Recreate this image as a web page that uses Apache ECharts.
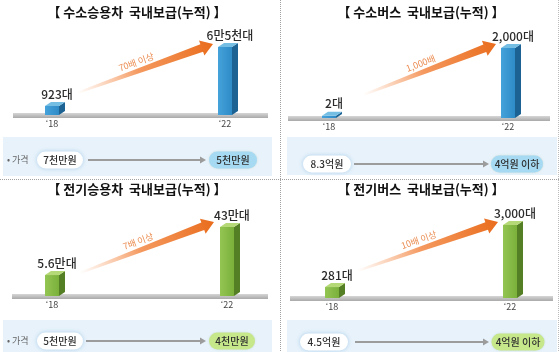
<!DOCTYPE html>
<html>
<head>
<meta charset="utf-8">
<script src="https://cdn.jsdelivr.net/npm/echarts@6/dist/echarts.min.js"></script>
<style>
  html, body { margin: 0; padding: 0; background: #fff; }
  #chart { width: 560px; height: 352px; }
</style>
</head>
<body>
<div id="chart"></div>
<script>
// values
var years = ['\u201818', '\u201822'];
var titles = ['【 수소승용차  국내보급(누적) 】', '【 수소버스  국내보급(누적) 】', '【 전기승용차  국내보급(누적) 】', '【 전기버스  국내보급(누적) 】'];
var h2CarUnits = [923, 65000];
var h2BusUnits = [2, 2000];
var evCarUnits = [56000, 430000];
var evBusUnits = [281, 3000];
var h2CarLabels = ['923대', '6만5천대'];
var h2BusLabels = ['2대', '2,000대'];
var evCarLabels = ['5.6만대', '43만대'];
var evBusLabels = ['281대', '3,000대'];
var growthLabels = ['70배 이상', '1,000배', '7배 이상', '10배 이상'];
var priceFrom = ['7천만원', '8.3억원', '5천만원', '4.5억원'];
var priceTo = ['5천만원', '4억원 이하', '4천만원', '4억원 이하'];

var FONT = "'Noto Sans CJK KR', 'Noto Sans', sans-serif";
var blue = { front: '#2f8bc6', light: '#45a2da', side: '#1c6393', top: '#74bde3' };
var green = { front: '#7bb03b', light: '#93c552', side: '#557f24', top: '#b6d977' };

// layout of the four panels (bars are not to scale in the picture, so each uses its own log axis)
var panels = [
  { units: h2CarUnits, labels: h2CarLabels, col: blue, min: 480, grid: { left: 52, top: 47, width: 173, height: 68 },
    title: [137, 12], band: [13, 268], arrow: [77, 93, 213, 44], box: [3, 137, 269, 39], pillY: 160,
    pills: [60, 233], pillW: [46, 48], line: [88, 205], toFill: '#a6daf3', price: true },
  { units: h2BusUnits, labels: h2BusLabels, col: blue, min: 1.6, grid: { left: 329, top: 48, width: 179, height: 70 },
    title: [421, 12], band: [288, 550], arrow: [363, 95, 496, 44], box: [287, 137, 270, 38], pillY: 164,
    pills: [327, 517], pillW: [48, 52], line: [354, 488], toFill: '#a6daf3', price: false },
  { units: evCarUnits, labels: evCarLabels, col: green, min: 23000, grid: { left: 52, top: 227, width: 175, height: 69 },
    title: [137, 189], band: [12, 268], arrow: [80, 273, 214, 222], box: [3, 320, 269, 32], pillY: 341,
    pills: [60, 232], pillW: [46, 46], line: [86, 205], toFill: '#c6e88b', price: true },
  { units: evBusUnits, labels: evBusLabels, col: green, min: 185, grid: { left: 332, top: 225, width: 178, height: 73 },
    title: [421, 189], band: [290, 553], arrow: [357, 271, 498, 222], box: [287, 320, 270, 32], pillY: 342,
    pills: [324, 518], pillW: [48, 53], line: [355, 488], toFill: '#c6e88b', price: false }
];

function boxItem(p) {
  return function (params, api) {
    var cs = params.coordSys;
    var pt = api.coord([api.value(0), api.value(1)]);
    var base = cs.y + cs.height;
    var cx = pt[0], top = pt[1];
    var w = 7, dx = 6, dy = 4;
    return {
      type: 'group',
      children: [
        { type: 'polygon', shape: { points: [[cx + w, top], [cx + w + dx, top - dy], [cx + w + dx, base - dy], [cx + w, base]] },
          style: { fill: p.col.side } },
        { type: 'rect', shape: { x: cx - w, y: top, width: 2 * w, height: base - top },
          style: { fill: new echarts.graphic.LinearGradient(0, 0, 1, 0, [{ offset: 0, color: p.col.light }, { offset: 1, color: p.col.front }]) } },
        { type: 'polygon', shape: { points: [[cx - w, top], [cx - w + dx, top - dy], [cx + w + dx, top - dy], [cx + w, top]] },
          style: { fill: p.col.top } },
        { type: 'text', x: cx + 5, y: top - dy - 2,
          style: { text: p.labels[params.dataIndex], fill: '#2b2b2b', font: '500 12px ' + FONT,
            align: 'center', verticalAlign: 'bottom', textAlign: 'center', textVerticalAlign: 'bottom' } }
      ]
    };
  };
}

function growthArrow(a, txt) {
  var x1 = a[0], y1 = a[1], x2 = a[2], y2 = a[3];
  var len = Math.sqrt((x2 - x1) * (x2 - x1) + (y2 - y1) * (y2 - y1));
  var ang = Math.atan2(y1 - y2, x2 - x1);
  var ux = (x2 - x1) / len, uy = (y2 - y1) / len;
  var mx = (x1 + x2) / 2 - ux * 6 + uy * 9, my = (y1 + y2) / 2 - uy * 6 - ux * 9;
  return [
    { type: 'group', x: x1, y: y1, rotation: ang, children: [
      { type: 'polygon',
        shape: { points: [[0, -1], [len - 12, -4], [len - 12, -8], [len, 0], [len - 12, 8], [len - 12, 4], [0, 1]] },
        style: { fill: new echarts.graphic.LinearGradient(0, 0, 1, 0, [
          { offset: 0, color: 'rgba(246,150,90,0)' }, { offset: 0.45, color: 'rgba(242,128,56,0.8)' }, { offset: 1, color: '#e96c1c' }]) } }
    ] },
    { type: 'text', x: mx, y: my, rotation: ang,
      style: { text: txt, fill: '#eb8c50', font: '9px ' + FONT,
        align: 'center', verticalAlign: 'middle', textAlign: 'center', textVerticalAlign: 'middle' } }
  ];
}

function pill(cx, cy, w, fill, txt, glow) {
  return { type: 'group', children: [
    { type: 'rect', shape: { x: cx - w / 2, y: cy - 8.5, width: w, height: 17, r: 8.5 },
      style: { fill: fill, shadowBlur: glow ? 4 : 2, shadowColor: glow ? 'rgba(130,180,220,0.6)' : 'rgba(120,160,120,0.3)' } },
    { type: 'text', x: cx, y: cy + 0.5,
      style: { text: txt, fill: '#2f2f2f', font: '500 10px ' + FONT,
        align: 'center', verticalAlign: 'middle', textAlign: 'center', textVerticalAlign: 'middle' } }
  ] };
}

var grids = [], xAxes = [], yAxes = [], series = [], graphics = [];

panels.forEach(function (p, i) {
  grids.push(p.grid);
  xAxes.push({ type: 'category', gridIndex: i, data: years, boundaryGap: false,
    axisLine: { show: false }, axisTick: { show: false },
    axisLabel: { fontSize: 9, color: '#444', fontFamily: FONT, margin: 4 } });
  yAxes.push({ type: 'log', gridIndex: i, min: p.min, max: p.units[1], show: false, splitLine: { show: false } });
  series.push({ type: 'custom', xAxisIndex: i, yAxisIndex: i, renderItem: boxItem(p),
    data: p.units.map(function (v, k) { return [k, v]; }), z: 5 });

  var base = p.grid.top + p.grid.height;
  graphics.push({ type: 'text', x: p.title[0], y: p.title[1],
    style: { text: titles[i], fill: '#111', font: 'bold 13px ' + FONT,
      align: 'center', verticalAlign: 'middle', textAlign: 'center', textVerticalAlign: 'middle' } });
  // grey floor
  graphics.push({ type: 'rect', z: -1, shape: { x: p.band[0], y: base - 2, width: p.band[1] - p.band[0], height: 5 },
    style: { fill: new echarts.graphic.LinearGradient(0, 0, 0, 1, [{ offset: 0, color: '#d6d6d6' }, { offset: 1, color: '#a9a9a9' }]) } });
  graphics = graphics.concat(growthArrow(p.arrow, growthLabels[i]));
  // price strip
  graphics.push({ type: 'rect', z: -2, shape: { x: p.box[0], y: p.box[1], width: p.box[2], height: p.box[3] },
    style: { fill: '#e7f2fb' } });
  if (p.price) {
    graphics.push({ type: 'text', x: 7, y: p.pillY,
      style: { text: '• 가격', fill: '#666', font: '9px ' + FONT, verticalAlign: 'middle', textVerticalAlign: 'middle' } });
  }
  graphics.push({ type: 'line', shape: { x1: p.line[0], y1: p.pillY, x2: p.line[1] - 4, y2: p.pillY },
    style: { stroke: '#9c9c9c', lineWidth: 2 } });
  graphics.push({ type: 'polygon', shape: { points: [[p.line[1] - 5, p.pillY - 3.5], [p.line[1] + 1, p.pillY], [p.line[1] - 5, p.pillY + 3.5]] },
    style: { fill: '#9c9c9c' } });
  graphics.push(pill(p.pills[0], p.pillY, p.pillW[0], '#ffffff', priceFrom[i], true));
  graphics.push(pill(p.pills[1], p.pillY, p.pillW[1], p.toFill, priceTo[i], false));
});

// dotted panel dividers
graphics.push({ type: 'line', shape: { x1: 280.5, y1: 0, x2: 280.5, y2: 352 }, style: { stroke: '#a0a0a0', lineWidth: 1, lineDash: [1, 1] } });
graphics.push({ type: 'line', shape: { x1: 0, y1: 179.5, x2: 560, y2: 179.5 }, style: { stroke: '#a0a0a0', lineWidth: 1, lineDash: [1, 1] } });
graphics.push({ type: 'line', shape: { x1: 558.5, y1: 0, x2: 558.5, y2: 352 }, style: { stroke: '#bbbbbb', lineWidth: 1, lineDash: [1, 1] } });

var chart = echarts.init(document.getElementById('chart'));
chart.setOption({
  animation: false,
  backgroundColor: '#fff',
  grid: grids,
  xAxis: xAxes,
  yAxis: yAxes,
  series: series,
  graphic: { elements: graphics }
});
</script>
</body>
</html>
